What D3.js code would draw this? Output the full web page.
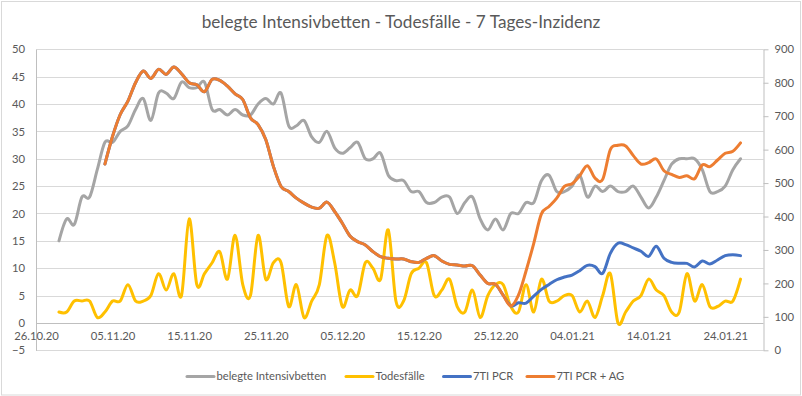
<!DOCTYPE html>
<html>
<head>
<meta charset="utf-8">
<script src="https://cdn.jsdelivr.net/npm/d3@7"></script>
<style>
  body { margin: 0; background: #fff; }
  svg { font-family: Lato, "Open Sans", sans-serif; }
</style>
</head>
<body>
<div id="chart"></div>
<script>
// daten (tageswerte ab erstem tag der reihe)
const startBetten = "29.10.20";
const startInzidenz = "04.11.20";
const betten = [
  15,19,18,23,23,28,33,33,35,36,
  39,41,37,42,42,41,44,43,43,44,
  39,39,38,39,38,38,40,41,40,42,
  36,36,37,34,33,35,32,31,32,33,
  30,30,31,27,26,26,24,24,22,22,
  23,23,20,22,23,19,17,19,17,20,
  20,22,22,26,27,24,24,25,27,23,
  25,24,25,24,24,25,23,21,23,26,
  29,30,30,30,28,24,24,25,28,30
];
const todesfaelle = [
  2,2,4,4,4,1,2,4,4,7,
  4,4,5,9,6,9,5,19,7,9,
  11,13,8,16,7,5,16,8,11,11,
  3,7,1,4,7,16,11,3,6,5,
  11,10,8,17,4,4,9,10,11,5,
  6,8,3,2,6,1,5,7,7,3,
  2,7,2,8,4,4,5,5,2,4,
  1,5,9,0,2,4,5,8,6,5,
  2,2,9,4,7,3,3,4,4,8
];
const pcr = [
  557,640,705,745,800,835,813,840,825,847,
  827,800,794,773,810,807,790,767,750,695,
  675,630,550,490,475,455,440,428,425,443,
  415,380,342,325,315,295,280,275,273,273,
  265,263,275,283,267,257,255,252,253,225,
  200,197,165,133,142,141,162,182,197,211,
  219,225,238,254,250,230,290,320,316,306,
  296,281,311,275,263,260,260,249,267,258,
  270,283,286,283
];
const pcrAg = [
  557,640,705,745,800,835,813,840,825,847,
  827,800,794,773,810,807,790,767,750,695,
  675,630,550,490,475,455,440,428,425,443,
  415,380,342,325,315,295,280,275,273,273,
  265,263,275,283,267,257,255,252,253,225,
  200,198,165,133,165,238,320,408,430,455,
  490,498,522,552,515,511,600,613,611,582,
  557,561,572,537,526,517,522,513,554,549,
  569,589,595,620
];
const xTicks = ["26.10.20","05.11.20","15.11.20","25.11.20","05.12.20","15.12.20","25.12.20","04.01.21","14.01.21","24.01.21"];
const xRange = ["26.10.20","29.01.21"];
const leftTicks = [-5,0,5,10,15,20,25,30,35,40,45,50];
const rightTicks = [0,100,200,300,400,500,600,700,800,900];
const titel = "belegte Intensivbetten - Todesfälle - 7 Tages-Inzidenz";
const serien = [
  {name:"belegte Intensivbetten", werte:betten, start:startBetten, achse:"links", farbe:"#A5A5A5"},
  {name:"Todesfälle", werte:todesfaelle, start:startBetten, achse:"links", farbe:"#FFC000"},
  {name:"7TI PCR", werte:pcr, start:startInzidenz, achse:"rechts", farbe:"#4472C4"},
  {name:"7TI PCR + AG", werte:pcrAg, start:startInzidenz, achse:"rechts", farbe:"#ED7D31"}
];

const Width = 802, Height = 396;
const parse = d3.timeParse("%d.%m.%y");
const fmt = d3.timeFormat("%d.%m.%y");
const pLeft = 36, pRight = 763.5, pTop = 49.3, pBottom = 350.3;
const axisFont = 11.3;

const svg = d3.select("#chart").append("svg")
  .attr("width", Width).attr("height", Height);

// rahmen
svg.append("rect").attr("x",1.5).attr("y",1.5).attr("width",799).attr("height",393.5)
  .attr("fill","#fff").attr("stroke","#d9d9d9");

svg.append("text").attr("x",401).attr("y",28).attr("text-anchor","middle")
  .attr("font-size",17.2).attr("fill","#595959").text(titel);

const xScale = d3.scaleTime().domain(xRange.map(parse)).range([pLeft,pRight]);
const yLeft = d3.scaleLinear().domain([-5,50]).range([pBottom,pTop]);
const yRight = d3.scaleLinear().domain([0,900]).range([pBottom,pTop]);

// gitterlinien
svg.append("g").selectAll("line").data(leftTicks).enter().append("line")
  .attr("x1",pLeft).attr("x2",pRight)
  .attr("y1",d=>Math.round(yLeft(d))+0.5).attr("y2",d=>Math.round(yLeft(d))+0.5)
  .attr("stroke",d=>d===0?"#bfbfbf":"#d9d9d9").attr("stroke-width",1);

// linke achse
const GYLeft = svg.append("g").attr("transform","translate("+pLeft+",0)");
GYLeft.call(d3.axisLeft(yLeft).tickValues(leftTicks).tickSize(0).tickPadding(11));
GYLeft.select(".domain").attr("stroke","#bfbfbf");
GYLeft.selectAll("text").attr("font-size",axisFont).attr("fill","#595959").attr("font-family","Lato");

// rechte achse
const GYRight = svg.append("g").attr("transform","translate("+pRight+",0)");
GYRight.call(d3.axisRight(yRight).tickValues(rightTicks).tickSizeInner(5).tickSizeOuter(0).tickPadding(6));
GYRight.select(".domain").attr("stroke","#bfbfbf");
GYRight.selectAll("line").attr("stroke","#bfbfbf");
GYRight.selectAll("text").attr("font-size",axisFont).attr("fill","#595959").attr("font-family","Lato");

// x achse bei 0
const GXAxis = svg.append("g").attr("transform","translate(0,"+yLeft(0)+")");
GXAxis.call(d3.axisBottom(xScale).tickValues(xTicks.map(parse)).tickFormat(fmt).tickSize(0).tickPadding(9));
GXAxis.select(".domain").remove();
GXAxis.selectAll("text").attr("font-size",axisFont).attr("fill","#595959").attr("font-family","Lato");

// linien
serien.forEach(s=>{
  const t0 = parse(s.start);
  const y = s.achse==="links" ? yLeft : yRight;
  const line = d3.line()
    .x((d,i)=>xScale(d3.timeDay.offset(t0,i)))
    .y(d=>y(d))
    .curve(d3.curveCardinal.tension(0));
  svg.append("path").datum(s.werte).attr("d",line)
    .attr("fill","none").attr("stroke",s.farbe).attr("stroke-width",3)
    .attr("stroke-linejoin","round").attr("stroke-linecap","round");
});

// legende
const legX = [187,346,443.5,527];
const leg = svg.append("g").selectAll("g").data(serien).enter().append("g")
  .attr("transform",(d,i)=>"translate("+legX[i]+",376.5)");
leg.append("line").attr("x1",0).attr("x2",27).attr("stroke",d=>d.farbe).attr("stroke-width",3)
  .attr("stroke-linecap","round");
leg.append("text").attr("x",29.5).attr("dy","0.35em").attr("font-size",11.2).attr("fill","#595959")
  .text(d=>d.name);
</script>
</body>
</html>
